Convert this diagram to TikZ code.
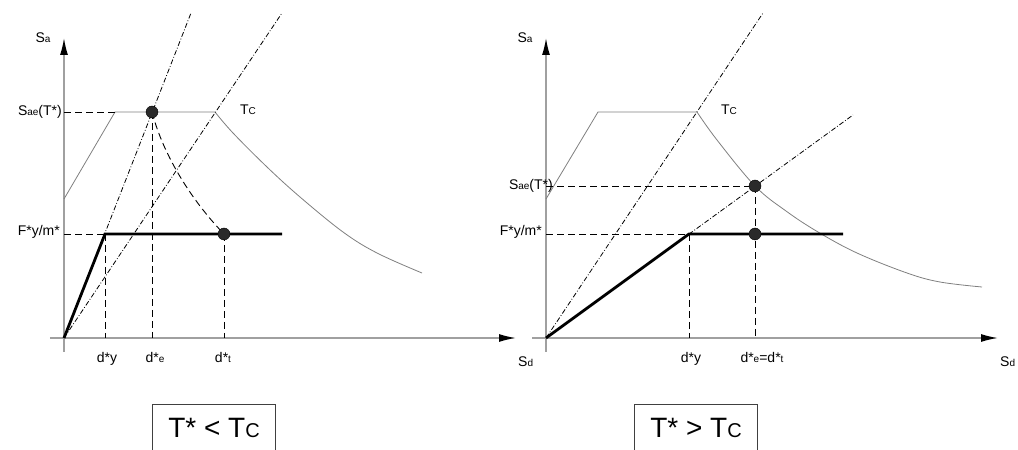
\documentclass[tikz,border=0pt]{standalone}
\usepackage{fontspec}
\setmainfont{Liberation Sans}
\usetikzlibrary{arrows.meta,positioning,calc}
\definecolor{axisgray}{HTML}{A0A0A0}
\definecolor{specgray}{HTML}{7F7F7F}
\definecolor{dotfill}{HTML}{2A2A2A}
\newcommand{\sm}[1]{{\fontsize{10}{10}\selectfont #1}}
\newcommand{\smbig}[1]{{\fontsize{20}{20}\selectfont #1}}
\tikzset{
  axisline/.style={draw=axisgray,line width=1.5pt,-{Latex[length=17pt,width=8pt,color=black]}},
  spectrum/.style={draw=specgray,line width=0.8pt},
  capacity/.style={draw=black,line width=2.8pt},
  guide/.style={draw=black,line width=0.9pt,dash pattern=on 7pt off 4pt},
  radial/.style={draw=black,line width=0.8pt,dash pattern=on 5pt off 2pt on 0.8pt off 2pt},
  pointmark/.style={circle,fill=dotfill,draw=black,inner sep=0pt,minimum size=12pt},
  lbl/.style={font=\fontsize{14}{14}\selectfont,inner sep=1pt},
  condition/.style={font=\fontsize{28}{28}\selectfont,minimum width=122pt,
    minimum height=45pt,inner sep=0pt},
  boxside/.style={draw=black!75,line width=0.8pt}
}

\begin{document}
\begin{tikzpicture}[x=1pt,y=1pt]
  \useasboundingbox (-64,-112) rectangle (954,338);
  % T* < Tc
  \begin{scope}
    \coordinate (lO) at (0,0);
    \coordinate (lYb) at (0,-14);
    \coordinate (lYt) at (0,300);
    \coordinate (lXl) at (-14,0);
    \coordinate (lXr) at (452,0);
    \coordinate (lA) at (0,139);
    \coordinate (lP1) at (51,226);
    \coordinate (lP2) at (151,226);
    \coordinate (lE) at (88,226);
    \coordinate (lEx) at (88,0);
    \coordinate (lSae) at (0,226);
    \coordinate (lR1) at (127,325);
    \coordinate (lR2) at (218,325);
    \coordinate (lY) at (41,104);
    \coordinate (lYx) at (41,0);
    \coordinate (lFy) at (0,104);
    \coordinate (lC) at (218,104);
    \coordinate (lT) at (160,104);
    \coordinate (lTx) at (160,0);
    \draw[axisline] (lYb) -- (lYt);
    \draw[axisline] (lXl) -- (lXr);
    \draw[spectrum] (lA) -- (lP1) -- (lP2);
    \draw[spectrum] plot[smooth,tension=0.6] coordinates
      {(151,226) (169,205) (203,171) (236,141) (279,106) (313,85) (358,65)};
    \draw[radial] (lO) -- (lR1);
    \draw[radial] (lO) -- (lR2);
    \draw[guide] (lSae) -- (lP1);
    \draw[guide] (lE) -- (lEx);
    \draw[guide] (lFy) -- (lY);
    \draw[guide] (lY) -- (lYx);
    \draw[guide] (lT) -- (lTx);
    \draw[guide] (lE) .. controls (100,180) and (130,135) .. (lT);
    \draw[capacity] (lO) -- (lY) -- (lC);
    \node[pointmark] (lEdot) at (lE) {};
    \node[pointmark] (lTdot) at (lT) {};
    \node[lbl] (lSa) at (-21,300) {S\sm{a}};
    \node[lbl,anchor=east] (lSaeT) at (-1,226) {S\sm{ae}(T*)};
    \node[lbl,anchor=east] (lFm) at (-3,106) {F*y/m*};
    \node[lbl] (lTc) at (184,228) {T\sm{C}};
    \node[lbl,anchor=base] (ldy) at (43,-24) {d*y};
    \node[lbl,anchor=base] (lde) at (91,-24) {d*\sm{e}};
    \node[lbl,anchor=base] (ldt) at (159,-24) {d*\sm{t}};
    \node[lbl,anchor=base west] (lSd) at (453,-29) {S\sm{d}};
    \node[condition] (lcond) at (150,-89.5) {T* < T\smbig{C}};
    \draw[boxside] (lcond.south west) -- (lcond.north west)
      -- (lcond.north east) -- (lcond.south east);
  \end{scope}
  % T* > Tc
  \begin{scope}[shift={(482,0)}]
    \coordinate (rO) at (0,0);
    \coordinate (rYb) at (0,-14);
    \coordinate (rYt) at (0,300);
    \coordinate (rXl) at (-14,0);
    \coordinate (rXr) at (452,0);
    \coordinate (rA) at (0,139);
    \coordinate (rP1) at (52,226);
    \coordinate (rP2) at (151,226);
    \coordinate (rE) at (209,152);
    \coordinate (rSae) at (0,152);
    \coordinate (rR1) at (217,325);
    \coordinate (rR2) at (307,223);
    \coordinate (rY) at (143,104);
    \coordinate (rYx) at (143,0);
    \coordinate (rFy) at (0,104);
    \coordinate (rC) at (297,104);
    \coordinate (rT) at (209,104);
    \coordinate (rTx) at (209,0);
    \draw[axisline] (rYb) -- (rYt);
    \draw[axisline] (rXl) -- (rXr);
    \draw[spectrum] (rA) -- (rP1) -- (rP2);
    \draw[spectrum] plot[smooth,tension=0.6] coordinates
      {(151,226) (171,198) (209,152) (240,127) (272,106) (311,85) (361,65) (394,56) (436,51)};
    \draw[radial] (rO) -- (rR1);
    \draw[radial] (rO) -- (rR2);
    \draw[guide] (rSae) -- (rE);
    \draw[guide] (rE) -- (rTx);
    \draw[guide] (rFy) -- (rY);
    \draw[guide] (rY) -- (rYx);
    \draw[capacity] (rO) -- (rY) -- (rC);
    \node[pointmark] (rEdot) at (rE) {};
    \node[pointmark] (rTdot) at (rT) {};
    \node[lbl] (rSa) at (-21,300) {S\sm{a}};
    \node[lbl,anchor=east] (rSaeT) at (8,152) {S\sm{ae}(T*)};
    \node[lbl,anchor=east] (rFm) at (-3,106) {F*y/m*};
    \node[lbl] (rTc) at (183,228) {T\sm{C}};
    \node[lbl,anchor=base] (rdy) at (145,-24) {d*y};
    \node[lbl,anchor=base] (rdedt) at (216,-24) {d*\sm{e}=d*\sm{t}};
    \node[lbl,anchor=base west] (rSd) at (453,-29) {S\sm{d}};
    \node[condition] (rcond) at (150,-89.5) {T* > T\smbig{C}};
    \draw[boxside] (rcond.south west) -- (rcond.north west)
      -- (rcond.north east) -- (rcond.south east);
  \end{scope}
\end{tikzpicture}
\end{document}
